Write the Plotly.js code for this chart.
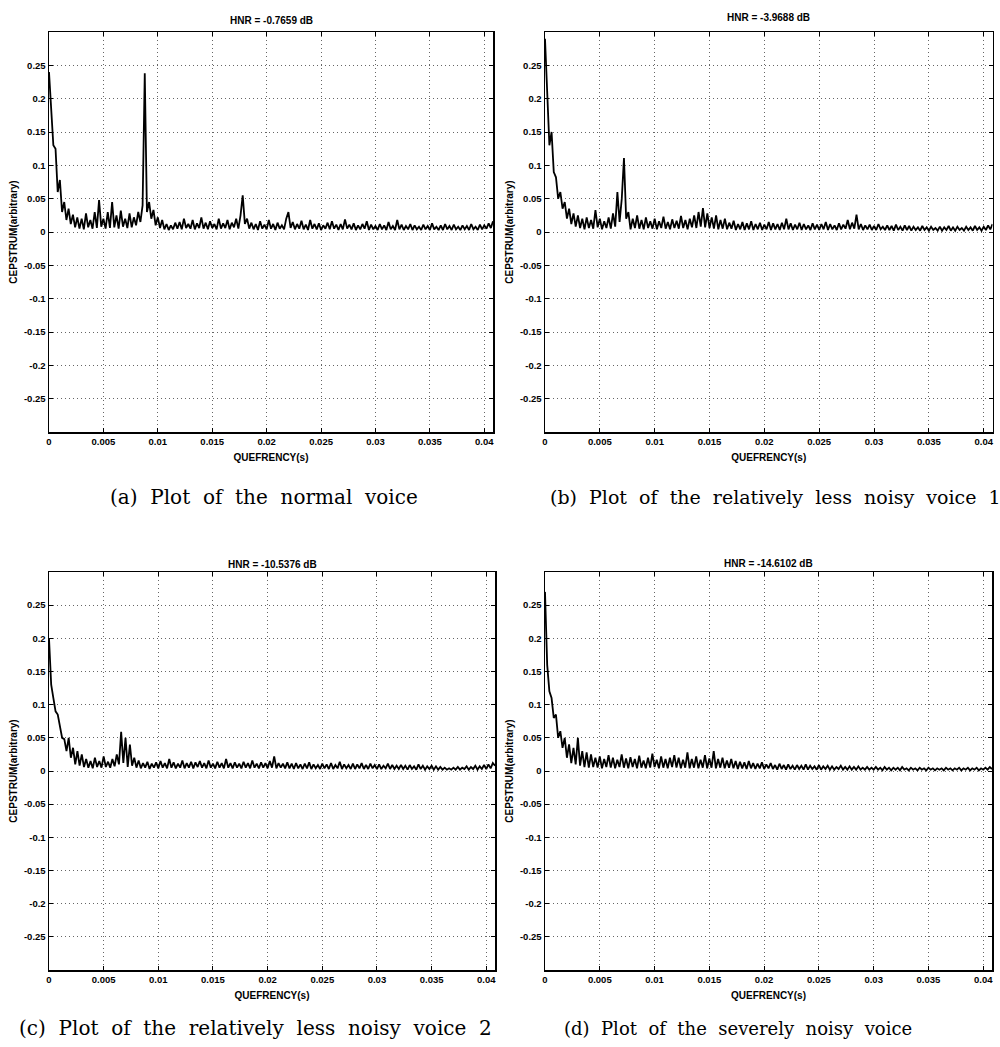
<!DOCTYPE html>
<html>
<head>
<meta charset="utf-8">
<script src="https://cdn.plot.ly/plotly-3.0.1.min.js"></script>
<style>
html,body{margin:0;padding:0;background:#fff;}
#chart{width:1000px;height:1047px;}
</style>
</head>
<body>
<div id="chart"></div>
<script>
// Quefrency sampling step of the read-off values (s)
const quefrencyStep = 0.0002;

// Panel titles and captions
const panelTitles = ["HNR = -0.7659 dB", "HNR = -3.9688 dB", "HNR = -10.5376 dB", "HNR = -14.6102 dB"];
const panelCaptions = [
  "(a)\u00a0 Plot\u00a0 of\u00a0 the\u00a0 normal\u00a0 voice",
  "(b)\u00a0 Plot\u00a0 of\u00a0 the\u00a0 relatively\u00a0 less\u00a0 noisy\u00a0 voice\u00a0 1",
  "(c)\u00a0 Plot\u00a0 of\u00a0 the\u00a0 relatively\u00a0 less\u00a0 noisy\u00a0 voice\u00a0 2",
  "(d)\u00a0 Plot\u00a0 of\u00a0 the\u00a0 severely\u00a0 noisy\u00a0 voice"
];
const xAxisTitle = "QUEFRENCY(s)";
const yAxisTitle = "CEPSTRUM(arbitrary)";

// Tick values and labels
const xTickVals = [0, 0.005, 0.01, 0.015, 0.02, 0.025, 0.03, 0.035, 0.04];
const xTickText = ["0", "0.005", "0.01", "0.015", "0.02", "0.025", "0.03", "0.035", "0.04"];
const yTickVals = [-0.25, -0.2, -0.15, -0.1, -0.05, 0, 0.05, 0.1, 0.15, 0.2, 0.25];
const yTickText = ["-0.25", "-0.2", "-0.15", "-0.1", "-0.05", "0", "0.05", "0.1", "0.15", "0.2", "0.25"];

// (a) normal voice
const cepstrumNormal = [
  0.24, 0.19, 0.13, 0.125, 0.06, 0.078, 0.03, 0.045, 0.018, 0.035,
  0.012, 0.026, 0.007, 0.022, 0.005, 0.02, 0.004, 0.028, 0.007, 0.018,
  0.005, 0.03, 0.006, 0.048, 0.008, 0.02, 0.005, 0.03, 0.006, 0.045,
  0.007, 0.025, 0.005, 0.032, 0.008, 0.02, 0.006, 0.028, 0.007, 0.022,
  0.01, 0.03, 0.015, 0.04, 0.238, 0.03, 0.045, 0.02, 0.033, 0.01,
  0.022, 0.006, 0.018, 0.004, 0.012, 0.003, 0.01, 0.004, 0.014, 0.005,
  0.015, 0.004, 0.02, 0.006, 0.012, 0.005, 0.018, 0.004, 0.013, 0.006,
  0.022, 0.005, 0.014, 0.004, 0.016, 0.006, 0.012, 0.004, 0.02, 0.005,
  0.013, 0.006, 0.018, 0.004, 0.014, 0.007, 0.02, 0.005, 0.025, 0.055,
  0.012, 0.02, 0.005, 0.014, 0.004, 0.012, 0.003, 0.016, 0.005, 0.011,
  0.004, 0.018, 0.005, 0.012, 0.003, 0.014, 0.005, 0.01, 0.004, 0.02,
  0.03, 0.006, 0.015, 0.004, 0.012, 0.005, 0.017, 0.004, 0.011, 0.003,
  0.018, 0.005, 0.012, 0.004, 0.013, 0.003, 0.01, 0.005, 0.014, 0.004,
  0.016, 0.005, 0.011, 0.003, 0.012, 0.004, 0.019, 0.005, 0.011, 0.004,
  0.013, 0.003, 0.01, 0.004, 0.012, 0.005, 0.016, 0.003, 0.011, 0.004,
  0.009, 0.003, 0.012, 0.004, 0.01, 0.003, 0.015, 0.004, 0.009, 0.003,
  0.018, 0.004, 0.011, 0.003, 0.009, 0.004, 0.012, 0.003, 0.01, 0.004,
  0.008, 0.003, 0.011, 0.004, 0.009, 0.003, 0.013, 0.004, 0.008, 0.003,
  0.01, 0.003, 0.012, 0.004, 0.009, 0.003, 0.011, 0.004, 0.008, 0.003,
  0.01, 0.004, 0.009, 0.003, 0.012, 0.004, 0.008, 0.003, 0.011, 0.004,
  0.01, 0.005, 0.013, 0.006, 0.016
];

// (b) relatively less noisy voice 1
const cepstrumLessNoisy1 = [
  0.29, 0.2, 0.13, 0.15, 0.09, 0.082, 0.05, 0.06, 0.035, 0.045,
  0.02, 0.035, 0.012, 0.028, 0.008, 0.025, 0.006, 0.02, 0.004, 0.022,
  0.006, 0.018, 0.005, 0.033, 0.007, 0.02, 0.004, 0.016, 0.006, 0.022,
  0.005, 0.028, 0.008, 0.06, 0.015, 0.05, 0.111, 0.02, 0.03, 0.004,
  0.02, 0.006, 0.025, 0.005, 0.018, 0.004, 0.022, 0.006, 0.016, 0.005,
  0.02, 0.004, 0.016, 0.006, 0.023, 0.005, 0.015, 0.004, 0.019, 0.006,
  0.017, 0.005, 0.024, 0.006, 0.018, 0.004, 0.02, 0.007, 0.025, 0.006,
  0.03, 0.008, 0.036, 0.007, 0.028, 0.006, 0.022, 0.005, 0.025, 0.004,
  0.018, 0.005, 0.02, 0.004, 0.014, 0.005, 0.017, 0.003, 0.012, 0.004,
  0.015, 0.003, 0.013, 0.004, 0.016, 0.003, 0.012, 0.004, 0.014, 0.003,
  0.011, 0.004, 0.015, 0.003, 0.013, 0.004, 0.012, 0.003, 0.014, 0.004,
  0.02, 0.004, 0.013, 0.003, 0.011, 0.004, 0.014, 0.003, 0.012, 0.004,
  0.01, 0.003, 0.013, 0.004, 0.011, 0.003, 0.012, 0.004, 0.015, 0.003,
  0.012, 0.004, 0.01, 0.003, 0.013, 0.004, 0.011, 0.005, 0.018, 0.004,
  0.014, 0.005, 0.026, 0.004, 0.012, 0.003, 0.01, 0.004, 0.011, 0.003,
  0.009, 0.003, 0.012, 0.004, 0.008, 0.003, 0.01, 0.003, 0.009, 0.002,
  0.011, 0.003, 0.008, 0.002, 0.01, 0.003, 0.009, 0.002, 0.008, 0.003,
  0.007, 0.002, 0.009, 0.003, 0.007, 0.002, 0.008, 0.003, 0.006, 0.002,
  0.008, 0.002, 0.007, 0.003, 0.009, 0.002, 0.007, 0.002, 0.008, 0.003,
  0.006, 0.002, 0.008, 0.003, 0.007, 0.002, 0.009, 0.003, 0.007, 0.002,
  0.008, 0.003, 0.01, 0.004, 0.012
];

// (c) relatively less noisy voice 2
const cepstrumLessNoisy2 = [
  0.2, 0.13, 0.11, 0.09, 0.085, 0.07, 0.05, 0.048, 0.03, 0.05,
  0.02, 0.035, 0.01, 0.03, 0.008, 0.025, 0.006, 0.018, 0.005, 0.015,
  0.004, 0.02, 0.006, 0.015, 0.005, 0.022, 0.006, 0.014, 0.005, 0.018,
  0.007, 0.025, 0.01, 0.059, 0.012, 0.05, 0.006, 0.04, 0.008, 0.02,
  0.005, 0.016, 0.004, 0.012, 0.005, 0.014, 0.003, 0.011, 0.005, 0.013,
  0.004, 0.015, 0.005, 0.012, 0.004, 0.018, 0.005, 0.013, 0.004, 0.011,
  0.005, 0.016, 0.004, 0.012, 0.005, 0.014, 0.004, 0.013, 0.006, 0.015,
  0.005, 0.012, 0.004, 0.016, 0.005, 0.011, 0.004, 0.014, 0.005, 0.012,
  0.004, 0.018, 0.005, 0.012, 0.004, 0.013, 0.005, 0.011, 0.004, 0.014,
  0.005, 0.012, 0.004, 0.016, 0.005, 0.011, 0.004, 0.013, 0.005, 0.012,
  0.004, 0.015, 0.005, 0.022, 0.004, 0.012, 0.005, 0.011, 0.004, 0.013,
  0.004, 0.011, 0.003, 0.012, 0.004, 0.01, 0.003, 0.011, 0.004, 0.013,
  0.003, 0.01, 0.004, 0.009, 0.003, 0.011, 0.004, 0.01, 0.003, 0.012,
  0.003, 0.009, 0.004, 0.014, 0.003, 0.01, 0.004, 0.009, 0.003, 0.011,
  0.003, 0.01, 0.004, 0.012, 0.003, 0.009, 0.003, 0.011, 0.004, 0.009,
  0.003, 0.01, 0.003, 0.008, 0.004, 0.011, 0.003, 0.009, 0.003, 0.008,
  0.003, 0.009, 0.003, 0.008, 0.002, 0.009, 0.003, 0.007, 0.002, 0.01,
  0.003, 0.008, 0.002, 0.007, 0.003, 0.008, 0.002, 0.007, 0.002, 0.006,
  0.002, 0.005, 0.002, 0.004, 0.002, 0.005, 0.002, 0.006, 0.002, 0.005,
  0.003, 0.007, 0.002, 0.006, 0.003, 0.008, 0.002, 0.007, 0.003, 0.009,
  0.003, 0.01, 0.004, 0.012, 0.008
];

// (d) severely noisy voice
const cepstrumSevere = [
  0.27, 0.16, 0.12, 0.11, 0.08, 0.085, 0.05, 0.06, 0.035, 0.05,
  0.02, 0.04, 0.012, 0.035, 0.01, 0.05, 0.008, 0.03, 0.006, 0.028,
  0.005, 0.025, 0.006, 0.02, 0.005, 0.022, 0.004, 0.018, 0.006, 0.024,
  0.005, 0.02, 0.004, 0.017, 0.006, 0.025, 0.005, 0.019, 0.004, 0.021,
  0.006, 0.018, 0.004, 0.023, 0.005, 0.016, 0.004, 0.02, 0.005, 0.026,
  0.006, 0.017, 0.004, 0.022, 0.005, 0.018, 0.004, 0.02, 0.006, 0.024,
  0.005, 0.02, 0.004, 0.017, 0.005, 0.028, 0.004, 0.018, 0.005, 0.022,
  0.004, 0.017, 0.005, 0.024, 0.004, 0.019, 0.005, 0.03, 0.004, 0.018,
  0.005, 0.02, 0.004, 0.016, 0.005, 0.018, 0.004, 0.015, 0.003, 0.014,
  0.004, 0.013, 0.003, 0.015, 0.004, 0.012, 0.003, 0.011, 0.004, 0.013,
  0.003, 0.01, 0.004, 0.012, 0.003, 0.009, 0.002, 0.011, 0.003, 0.009,
  0.002, 0.01, 0.003, 0.008, 0.002, 0.009, 0.003, 0.008, 0.002, 0.01,
  0.002, 0.008, 0.003, 0.007, 0.002, 0.009, 0.002, 0.007, 0.003, 0.008,
  0.002, 0.007, 0.002, 0.006, 0.003, 0.008, 0.002, 0.006, 0.002, 0.007,
  0.002, 0.006, 0.002, 0.007, 0.002, 0.005, 0.002, 0.006, 0.002, 0.005,
  0.002, 0.006, 0.002, 0.005, 0.001, 0.006, 0.002, 0.005, 0.001, 0.005,
  0.002, 0.005, 0.001, 0.006, 0.002, 0.004, 0.001, 0.005, 0.002, 0.004,
  0.001, 0.005, 0.002, 0.004, 0.001, 0.005, 0.002, 0.004, 0.001, 0.004,
  0.002, 0.004, 0.001, 0.005, 0.002, 0.004, 0.001, 0.004, 0.002, 0.005,
  0.001, 0.004, 0.002, 0.005, 0.001, 0.004, 0.002, 0.005, 0.001, 0.004,
  0.002, 0.005, 0.002, 0.006, 0.003
];

const seriesList = [cepstrumNormal, cepstrumLessNoisy1, cepstrumLessNoisy2, cepstrumSevere];

// Layout geometry (pixels of the 1000x1047 page)
const W = 1000, H = 1047;
const panels = [
  {x: [49, 493], y: [32, 432]},
  {x: [545, 992.5], y: [32, 432]},
  {x: [49, 495], y: [572, 970]},
  {x: [545, 992], y: [572, 970]}
];
const titleY = [20, 18, 564.5, 563];
const captionPos = [[264, 497], [775, 497], [255, 1028], [738, 1028]];
const captionSize = [20, 19, 20, 18];

const tickFont = {family: "Liberation Sans, Arial, sans-serif", size: 9.5, color: "#000", weight: "bold"};
const labelFont = {family: "Liberation Sans, Arial, sans-serif", size: 10, color: "#000", weight: "bold"};

const traces = [];
const layout = {
  width: W, height: H,
  margin: {l: 0, r: 0, t: 0, b: 0},
  paper_bgcolor: "#fff", plot_bgcolor: "#fff",
  showlegend: false,
  annotations: []
};

panels.forEach((p, k) => {
  const n = k + 1;
  const sfx = n === 1 ? "" : String(n);
  traces.push({
    type: "scatter", mode: "lines",
    x0: 0, dx: quefrencyStep,
    y: seriesList[k],
    xaxis: "x" + sfx, yaxis: "y" + sfx,
    line: {color: "#000", width: 1.8},
    hoverinfo: "skip"
  });
  const common = {
    showline: true, linecolor: "#000", linewidth: 1.5, mirror: "ticks",
    ticks: "inside", ticklen: 4, tickwidth: 1, tickcolor: "#000",
    showgrid: true, gridcolor: "#666", gridwidth: 1, griddash: "1px,3px",
    zeroline: false, tickfont: tickFont, fixedrange: true
  };
  layout["xaxis" + sfx] = Object.assign({}, common, {
    domain: [p.x[0] / W, p.x[1] / W],
    anchor: "y" + sfx,
    range: [0, 0.0408],
    tickmode: "array", tickvals: xTickVals, ticktext: xTickText,
    title: {text: xAxisTitle, font: labelFont, standoff: 8}
  });
  layout["yaxis" + sfx] = Object.assign({}, common, {
    domain: [1 - p.y[1] / H, 1 - p.y[0] / H],
    anchor: "x" + sfx,
    range: [-0.3, 0.3],
    tickmode: "array", tickvals: yTickVals, ticktext: yTickText,
    title: {text: yAxisTitle, font: labelFont, standoff: 4}
  });
  layout.annotations.push({
    text: panelTitles[k], xref: "paper", yref: "paper",
    x: (p.x[0] + p.x[1]) / 2 / W, y: 1 - titleY[k] / H,
    xanchor: "center", yanchor: "middle", showarrow: false,
    font: labelFont
  });
  layout.annotations.push({
    text: panelCaptions[k], xref: "paper", yref: "paper",
    x: captionPos[k][0] / W, y: 1 - captionPos[k][1] / H,
    xanchor: "center", yanchor: "middle", showarrow: false,
    font: {family: "DejaVu Serif, Liberation Serif, serif", size: captionSize[k], color: "#000"}
  });
});

Plotly.newPlot("chart", traces, layout, {displayModeBar: false, staticPlot: true});
</script>
</body>
</html>
